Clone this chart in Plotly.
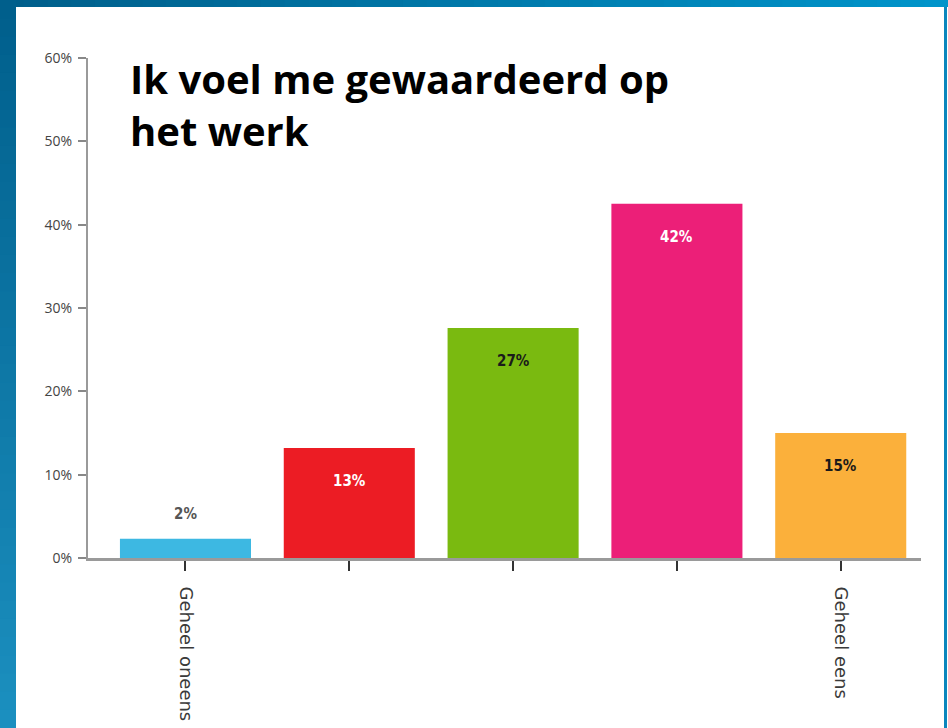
import plotly.graph_objects as go

# ---- data ----
scores = [1, 2, 3, 4, 5]
values = [2.3, 13.2, 27.6, 42.5, 15.0]
value_labels = ["2%", "13%", "27%", "42%", "15%"]
tick_labels = ["Geheel oneens", "", "", "", "Geheel eens"]
y_ticks = [0, 10, 20, 30, 40, 50, 60]
y_tick_labels = ["0%", "10%", "20%", "30%", "40%", "50%", "60%"]
title_text = "Ik voel me gewaardeerd op<br>het werk"

bar_colors = ["#3db8e2", "#ec1c24", "#7aba10", "#ec1f78", "#fbb03b"]
label_colors = ["#555555", "#ffffff", "#1a1a1a", "#ffffff", "#1a1a1a"]
label_inside = [False, True, True, True, True]

W, H = 948, 728
L, R, T, B = 88, 27, 58, 170
PW, PH = W - L - R, H - T - B

def px_x(p):
    return (p - L) / PW

def px_y(p):
    return (H - B - p) / PH

fig = go.Figure(go.Bar(
    x=scores, y=values, width=0.8,
    marker=dict(color=bar_colors, line=dict(width=0)),
    hoverinfo="skip",
))

# value labels
for xv, yv, t, c, inside in zip(scores, values, value_labels, label_colors, label_inside):
    fig.add_annotation(
        x=xv, y=yv, xref="x", yref="y", text="<b>%s</b>" % t, showarrow=False,
        font=dict(family="DejaVu Sans Condensed", size=15, color=c),
        yshift=-33 if inside else 25,
    )

# title
fig.add_annotation(
    x=px_x(128), y=px_y(49), xref="paper", yref="paper", xanchor="left", yanchor="top",
    align="left", showarrow=False, text="<b>%s</b>" % title_text,
    font=dict(family="Open Sans", size=40, color="#000000"),
)

# background frame (blue gradient strips)
def lerp(c1, c2, t):
    a = [int(c1[i:i + 2], 16) for i in (1, 3, 5)]
    b = [int(c2[i:i + 2], 16) for i in (1, 3, 5)]
    return "#%02x%02x%02x" % tuple(int(round(a[k] + (b[k] - a[k]) * t)) for k in range(3))

shapes = []
n = 40
for i in range(n):
    shapes.append(dict(type="rect", xref="paper", yref="paper", layer="below",
                       x0=px_x(i * W / n), x1=px_x((i + 1.05) * W / n),
                       y0=px_y(7), y1=px_y(-2),
                       fillcolor=lerp("#005e8a", "#0094ca", i / (n - 1)), line=dict(width=0)))
for i in range(n):
    shapes.append(dict(type="rect", xref="paper", yref="paper", layer="below",
                       x0=px_x(-2), x1=px_x(16),
                       y0=px_y((i + 1.05) * H / n), y1=px_y(i * H / n),
                       fillcolor=lerp("#005f8c", "#1b8fbf", i / (n - 1)), line=dict(width=0)))
shapes.append(dict(type="rect", xref="paper", yref="paper", layer="below",
                   x0=px_x(944), x1=px_x(947),
                   y0=px_y(H + 2), y1=px_y(7),
                   fillcolor="#0a86bd", line=dict(width=0)))

fig.update_layout(
    width=W, height=H,
    margin=dict(l=L, r=R, t=T, b=B, autoexpand=False),
    paper_bgcolor="#ffffff", plot_bgcolor="#ffffff",
    showlegend=False,
    shapes=shapes,
    xaxis=dict(range=[0.405, 5.49], tickvals=scores, ticktext=tick_labels, tickangle=90,
               showline=True, linecolor="#9a9a9a", linewidth=3, ticks="outside", ticklen=10,
               tickcolor="#333333", tickwidth=1.5, showgrid=False, zeroline=False,
               ticklabelstandoff=12,
               tickfont=dict(family="DejaVu Sans", size=18, color="#3a3a3a"), fixedrange=True),
    yaxis=dict(range=[0, 60], tickvals=y_ticks, ticktext=y_tick_labels, showline=True,
               linecolor="#9a9a9a", linewidth=2, ticks="outside", ticklen=8,
               tickcolor="#888888", tickwidth=1.5, showgrid=False, zeroline=False,
               ticklabelstandoff=3,
               tickfont=dict(family="Open Sans", size=14, color="#444444"), fixedrange=True),
)

fig.write_html("out.html", config={"displayModeBar": False},
               post_script="document.body.style.margin='0';")
